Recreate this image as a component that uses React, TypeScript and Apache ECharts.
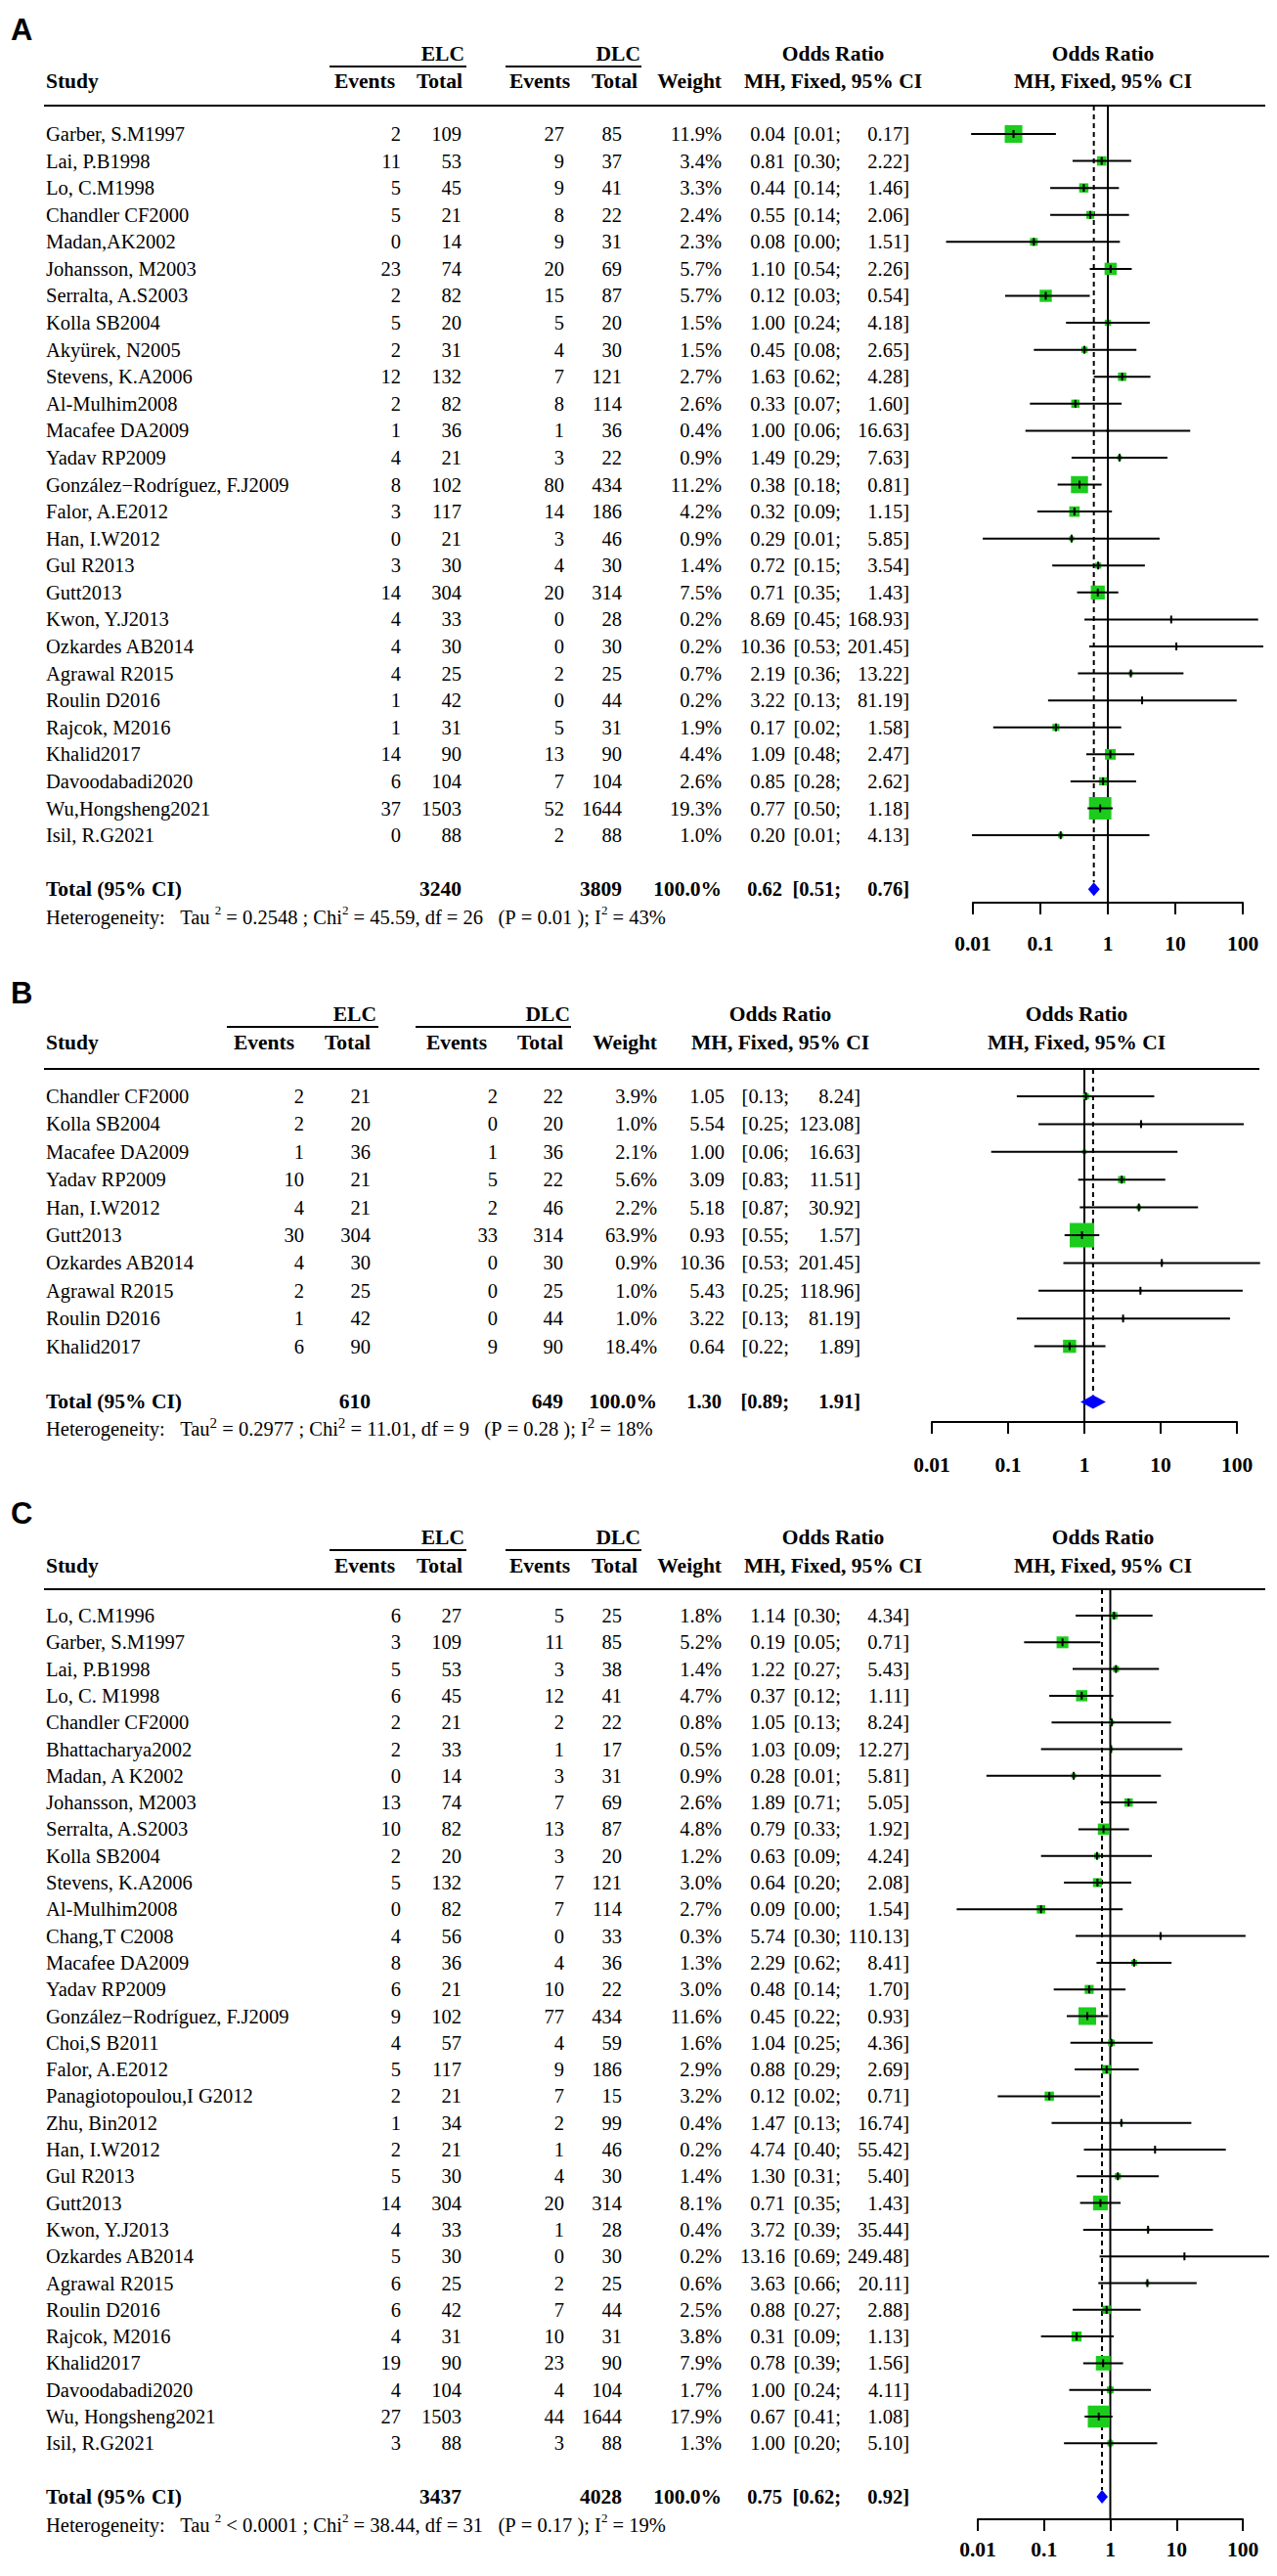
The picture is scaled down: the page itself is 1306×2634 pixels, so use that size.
import React, { useEffect, useRef } from 'react';
import * as echarts from 'echarts';

const W = 1306;
const H = 2634;
const SERIF = '"Liberation Serif", "Times New Roman", Times, serif';
const SANS = '"Liberation Sans", Arial, Helvetica, sans-serif';
const GREEN = '#1ccc1c';
const BLUE = '#0000ff';
const FS = 20.5;
const HFS = 21.5;

const TICK_LABELS = ['0.01', '0.1', '1', '10', '100'];

// ---------------- Panel A ----------------
const A_STUDY = ['Garber, S.M1997', 'Lai, P.B1998', 'Lo, C.M1998', 'Chandler CF2000', 'Madan,AK2002', 'Johansson, M2003', 'Serralta, A.S2003', 'Kolla SB2004', 'Akyürek, N2005', 'Stevens, K.A2006', 'Al-Mulhim2008', 'Macafee DA2009', 'Yadav RP2009', 'González−Rodríguez, F.J2009', 'Falor, A.E2012', 'Han, I.W2012', 'Gul R2013', 'Gutt2013', 'Kwon, Y.J2013', 'Ozkardes AB2014', 'Agrawal R2015', 'Roulin D2016', 'Rajcok, M2016', 'Khalid2017', 'Davoodabadi2020', 'Wu,Hongsheng2021', 'Isil, R.G2021'];
const A_EV_ELC = [2, 11, 5, 5, 0, 23, 2, 5, 2, 12, 2, 1, 4, 8, 3, 0, 3, 14, 4, 4, 4, 1, 1, 14, 6, 37, 0];
const A_N_ELC = [109, 53, 45, 21, 14, 74, 82, 20, 31, 132, 82, 36, 21, 102, 117, 21, 30, 304, 33, 30, 25, 42, 31, 90, 104, 1503, 88];
const A_EV_DLC = [27, 9, 9, 8, 9, 20, 15, 5, 4, 7, 8, 1, 3, 80, 14, 3, 4, 20, 0, 0, 2, 0, 5, 13, 7, 52, 2];
const A_N_DLC = [85, 37, 41, 22, 31, 69, 87, 20, 30, 121, 114, 36, 22, 434, 186, 46, 30, 314, 28, 30, 25, 44, 31, 90, 104, 1644, 88];
const A_WEIGHT = [11.9, 3.4, 3.3, 2.4, 2.3, 5.7, 5.7, 1.5, 1.5, 2.7, 2.6, 0.4, 0.9, 11.2, 4.2, 0.9, 1.4, 7.5, 0.2, 0.2, 0.7, 0.2, 1.9, 4.4, 2.6, 19.3, 1.0];
const A_OR = [0.04, 0.81, 0.44, 0.55, 0.08, 1.10, 0.12, 1.00, 0.45, 1.63, 0.33, 1.00, 1.49, 0.38, 0.32, 0.29, 0.72, 0.71, 8.69, 10.36, 2.19, 3.22, 0.17, 1.09, 0.85, 0.77, 0.20];
const A_LO = [0.0094, 0.30, 0.14, 0.14, 0.004, 0.54, 0.03, 0.24, 0.08, 0.62, 0.07, 0.06, 0.29, 0.18, 0.09, 0.014, 0.15, 0.35, 0.45, 0.53, 0.36, 0.13, 0.02, 0.48, 0.28, 0.50, 0.0097];
const A_HI = [0.17, 2.22, 1.46, 2.06, 1.51, 2.26, 0.54, 4.18, 2.65, 4.28, 1.60, 16.63, 7.63, 0.81, 1.15, 5.85, 3.54, 1.43, 168.93, 201.45, 13.22, 81.19, 1.58, 2.47, 2.62, 1.18, 4.13];
const A_TOTAL_N = [3240, 3809];
const A_SUMMARY = [0.62, 0.51, 0.76];
const A_HET = ['= 0.2548', '45.59', '26', '0.01', '43%'];

// ---------------- Panel B ----------------
const B_STUDY = ['Chandler CF2000', 'Kolla SB2004', 'Macafee DA2009', 'Yadav RP2009', 'Han, I.W2012', 'Gutt2013', 'Ozkardes AB2014', 'Agrawal R2015', 'Roulin D2016', 'Khalid2017'];
const B_EV_ELC = [2, 2, 1, 10, 4, 30, 4, 2, 1, 6];
const B_N_ELC = [21, 20, 36, 21, 21, 304, 30, 25, 42, 90];
const B_EV_DLC = [2, 0, 1, 5, 2, 33, 0, 0, 0, 9];
const B_N_DLC = [22, 20, 36, 22, 46, 314, 30, 25, 44, 90];
const B_WEIGHT = [3.9, 1.0, 2.1, 5.6, 2.2, 63.9, 0.9, 1.0, 1.0, 18.4];
const B_OR = [1.05, 5.54, 1.00, 3.09, 5.18, 0.93, 10.36, 5.43, 3.22, 0.64];
const B_LO = [0.13, 0.25, 0.06, 0.83, 0.87, 0.55, 0.53, 0.25, 0.13, 0.22];
const B_HI = [8.24, 123.08, 16.63, 11.51, 30.92, 1.57, 201.45, 118.96, 81.19, 1.89];
const B_TOTAL_N = [610, 649];
const B_SUMMARY = [1.30, 0.89, 1.91];
const B_HET = ['= 0.2977', '11.01', '9', '0.28', '18%'];

// ---------------- Panel C ----------------
const C_STUDY = ['Lo, C.M1996', 'Garber, S.M1997', 'Lai, P.B1998', 'Lo, C. M1998', 'Chandler CF2000', 'Bhattacharya2002', 'Madan, A K2002', 'Johansson, M2003', 'Serralta, A.S2003', 'Kolla SB2004', 'Stevens, K.A2006', 'Al-Mulhim2008', 'Chang,T C2008', 'Macafee DA2009', 'Yadav RP2009', 'González−Rodríguez, F.J2009', 'Choi,S B2011', 'Falor, A.E2012', 'Panagiotopoulou,I G2012', 'Zhu, Bin2012', 'Han, I.W2012', 'Gul R2013', 'Gutt2013', 'Kwon, Y.J2013', 'Ozkardes AB2014', 'Agrawal R2015', 'Roulin D2016', 'Rajcok, M2016', 'Khalid2017', 'Davoodabadi2020', 'Wu, Hongsheng2021', 'Isil, R.G2021'];
const C_EV_ELC = [6, 3, 5, 6, 2, 2, 0, 13, 10, 2, 5, 0, 4, 8, 6, 9, 4, 5, 2, 1, 2, 5, 14, 4, 5, 6, 6, 4, 19, 4, 27, 3];
const C_N_ELC = [27, 109, 53, 45, 21, 33, 14, 74, 82, 20, 132, 82, 56, 36, 21, 102, 57, 117, 21, 34, 21, 30, 304, 33, 30, 25, 42, 31, 90, 104, 1503, 88];
const C_EV_DLC = [5, 11, 3, 12, 2, 1, 3, 7, 13, 3, 7, 7, 0, 4, 10, 77, 4, 9, 7, 2, 1, 4, 20, 1, 0, 2, 7, 10, 23, 4, 44, 3];
const C_N_DLC = [25, 85, 38, 41, 22, 17, 31, 69, 87, 20, 121, 114, 33, 36, 22, 434, 59, 186, 15, 99, 46, 30, 314, 28, 30, 25, 44, 31, 90, 104, 1644, 88];
const C_WEIGHT = [1.8, 5.2, 1.4, 4.7, 0.8, 0.5, 0.9, 2.6, 4.8, 1.2, 3.0, 2.7, 0.3, 1.3, 3.0, 11.6, 1.6, 2.9, 3.2, 0.4, 0.2, 1.4, 8.1, 0.4, 0.2, 0.6, 2.5, 3.8, 7.9, 1.7, 17.9, 1.3];
const C_OR = [1.14, 0.19, 1.22, 0.37, 1.05, 1.03, 0.28, 1.89, 0.79, 0.63, 0.64, 0.09, 5.74, 2.29, 0.48, 0.45, 1.04, 0.88, 0.12, 1.47, 4.74, 1.30, 0.71, 3.72, 13.16, 3.63, 0.88, 0.31, 0.78, 1.00, 0.67, 1.00];
const C_LO = [0.30, 0.05, 0.27, 0.12, 0.13, 0.09, 0.0135, 0.71, 0.33, 0.09, 0.20, 0.0048, 0.30, 0.62, 0.14, 0.22, 0.25, 0.29, 0.02, 0.13, 0.40, 0.31, 0.35, 0.39, 0.69, 0.66, 0.27, 0.09, 0.39, 0.24, 0.41, 0.20];
const C_HI = [4.34, 0.71, 5.43, 1.11, 8.24, 12.27, 5.81, 5.05, 1.92, 4.24, 2.08, 1.54, 110.13, 8.41, 1.70, 0.93, 4.36, 2.69, 0.71, 16.74, 55.42, 5.40, 1.43, 35.44, 249.48, 20.11, 2.88, 1.13, 1.56, 4.11, 1.08, 5.10];
const C_TOTAL_N = [3437, 4028];
const C_SUMMARY = [0.75, 0.62, 0.92];
const C_HET = ['< 0.0001', '38.44', '31', '0.17', '19%'];

// ---------------- Layout (pixel positions) ----------------
const COLS_AC = { evE: 410, nE: 472, evC: 577, nC: 636, w: 738, est: 803, lo: 860, hi: 930 };
const HDR_AC = { elc: [337, 477], dlc: [517, 656], evE: 404, nE: 473, evC: 583, nC: 652, w: 738, orC: 852, plotC: 1128 };

const LAYOUT_A = {
  label: 'A', labelY: 30, head1Y: 55, underY: 68, head2Y: 83, ruleY: 108,
  row0: 137, step: 27.58, hetY: 936, axisY: 923, labelGap: 31,
  ruleX0: 45, ruleX1: 1294, nameX: 47, cols: COLS_AC, hdr: HDR_AC,
  plotX0: 995, plotX1: 1271, sq: 5.22, tauSpace: true, sup: 13,
};
const LAYOUT_B = {
  label: 'B', labelY: 1015, head1Y: 1037, underY: 1050, head2Y: 1066, ruleY: 1093,
  row0: 1121, step: 28.4, hetY: 1459, axisY: 1454, labelGap: 33,
  ruleX0: 45, ruleX1: 1288, nameX: 47,
  cols: { evE: 311, nE: 379, evC: 509, nC: 576, w: 672, est: 741, lo: 807, hi: 880 },
  hdr: { elc: [232, 387], dlc: [425, 584], evE: 301, nE: 379, evC: 498, nC: 576, w: 672, orC: 798, plotC: 1101 },
  plotX0: 953, plotX1: 1265, sq: 3.13, tauSpace: false, sup: 15,
};
const LAYOUT_C = {
  label: 'C', labelY: 1547, head1Y: 1572, underY: 1585, head2Y: 1601, ruleY: 1625,
  row0: 1652, step: 27.3, hetY: 2580, axisY: 2576, labelGap: 20,
  ruleX0: 45, ruleX1: 1294, nameX: 47, cols: COLS_AC, hdr: HDR_AC,
  plotX0: 1000, plotX1: 1271, sq: 5.3, tauSpace: true, sup: 13,
};

const PANELS = [
  { L: LAYOUT_A, study: A_STUDY, evE: A_EV_ELC, nE: A_N_ELC, evC: A_EV_DLC, nC: A_N_DLC, w: A_WEIGHT, or: A_OR, lo: A_LO, hi: A_HI, tot: A_TOTAL_N, sum: A_SUMMARY, het: A_HET },
  { L: LAYOUT_B, study: B_STUDY, evE: B_EV_ELC, nE: B_N_ELC, evC: B_EV_DLC, nC: B_N_DLC, w: B_WEIGHT, or: B_OR, lo: B_LO, hi: B_HI, tot: B_TOTAL_N, sum: B_SUMMARY, het: B_HET },
  { L: LAYOUT_C, study: C_STUDY, evE: C_EV_ELC, nE: C_N_ELC, evC: C_EV_DLC, nC: C_N_DLC, w: C_WEIGHT, or: C_OR, lo: C_LO, hi: C_HI, tot: C_TOTAL_N, sum: C_SUMMARY, het: C_HET },
];

function txt(text: string, x: number, y: number, align: string, font: string, extra: any = {}) {
  return {
    type: 'text', x, y, silent: true,
    style: { text, font, fill: '#000', textAlign: align, align, textVerticalAlign: 'middle', verticalAlign: 'middle', ...extra },
  };
}
function hline(x1: number, x2: number, y: number) {
  return { type: 'line', silent: true, shape: { x1, y1: y, x2, y2: y }, style: { stroke: '#000', lineWidth: 2 } };
}

function buildOption() {
  const grid: any[] = [];
  const xAxis: any[] = [];
  const yAxis: any[] = [];
  const series: any[] = [];
  const graphic: any[] = [];
  const bold = `bold ${HFS}px ${SERIF}`;

  PANELS.forEach((P, p) => {
    const L: any = P.L;
    const n = P.study.length;
    const yMin = -(L.row0 - L.ruleY) / L.step;
    const yMax = (L.axisY - L.row0) / L.step;
    const gh = L.axisY - L.ruleY;
    const gt = 2 * p;
    const gp = 2 * p + 1;

    grid.push({ left: 0, top: L.ruleY, width: W, height: gh, containLabel: false, outerBoundsMode: 'none' });
    grid.push({ left: L.plotX0, top: L.ruleY, width: L.plotX1 - L.plotX0, height: gh, containLabel: false, outerBoundsMode: 'none' });

    xAxis.push({ type: 'value', gridIndex: gt, min: 0, max: W, show: false });
    xAxis.push({
      type: 'log', logBase: 10, gridIndex: gp, min: 0.01, max: 100, position: 'bottom',
      axisLine: { show: true, onZero: false, lineStyle: { color: '#000', width: 2 } },
      axisTick: { show: true, inside: false, length: 12, lineStyle: { color: '#000', width: 2 } },
      minorTick: { show: false },
      splitLine: { show: false },
      axisLabel: {
        show: true, margin: L.labelGap, color: '#000', fontFamily: SERIF, fontWeight: 'bold', fontSize: HFS,
        formatter: (v: number) => TICK_LABELS[Math.round(Math.log10(v)) + 2] ?? '',
      },
    });
    yAxis.push({ type: 'value', gridIndex: gt, min: yMin, max: yMax, inverse: true, show: false });
    yAxis.push({ type: 'value', gridIndex: gp, min: yMin, max: yMax, inverse: true, show: false });

    // table text
    const tableData: number[][] = P.study.map((_, i) => [0, i]);
    tableData.push([0, n + 1]);
    series.push({
      type: 'custom', xAxisIndex: gt, yAxisIndex: gt, clip: false, silent: true, z: 3,
      data: tableData,
      renderItem: (params: any, api: any) => {
        const i = params.dataIndex;
        const isTot = i === n;
        const row = isTot ? n + 1 : i;
        const y = api.coord([0, row])[1];
        const cx = (x: number) => api.coord([x, row])[0];
        const font = isTot ? `bold ${FS}px ${SERIF}` : `${FS}px ${SERIF}`;
        const nameFont = isTot ? `bold ${HFS}px ${SERIF}` : font;
        const C = L.cols;
        const est = isTot ? P.sum[0] : P.or[i];
        const lo = isTot ? P.sum[1] : P.lo[i];
        const hi = isTot ? P.sum[2] : P.hi[i];
        const children: any[] = [
          txt(isTot ? 'Total (95% CI)' : P.study[i], cx(L.nameX), y, 'left', nameFont),
          txt(est.toFixed(2), cx(C.est - (isTot ? 3 : 0)), y, 'right', font),
          txt('[' + lo.toFixed(2) + ';', cx(C.lo), y, 'right', font),
          txt(hi.toFixed(2) + ']', cx(C.hi), y, 'right', font),
        ];
        if (isTot) {
          children.push(txt(String(P.tot[0]), cx(C.nE), y, 'right', nameFont));
          children.push(txt(String(P.tot[1]), cx(C.nC), y, 'right', nameFont));
          children.push(txt('100.0%', cx(C.w), y, 'right', nameFont));
        } else {
          children.push(txt(String(P.evE[i]), cx(C.evE), y, 'right', font));
          children.push(txt(String(P.nE[i]), cx(C.nE), y, 'right', font));
          children.push(txt(String(P.evC[i]), cx(C.evC), y, 'right', font));
          children.push(txt(String(P.nC[i]), cx(C.nC), y, 'right', font));
          children.push(txt(P.w[i].toFixed(1) + '%', cx(C.w), y, 'right', font));
        }
        return { type: 'group', children };
      },
    });

    // forest marks
    series.push({
      type: 'custom', xAxisIndex: gp, yAxisIndex: gp, clip: false, silent: true, z: 4,
      data: P.or.map((v, i) => [v, i]),
      renderItem: (params: any, api: any) => {
        const i = params.dataIndex;
        const c = api.coord([P.or[i], i]);
        const a = api.coord([P.lo[i], i]);
        const b = api.coord([P.hi[i], i]);
        const s = Math.max(2, L.sq * Math.sqrt(P.w[i]));
        return {
          type: 'group', children: [
            { type: 'rect', shape: { x: c[0] - s / 2, y: c[1] - s / 2, width: s, height: s }, style: { fill: GREEN } },
            { type: 'line', shape: { x1: a[0], y1: a[1], x2: b[0], y2: b[1] }, style: { stroke: '#000', lineWidth: 2 } },
            { type: 'line', shape: { x1: c[0], y1: c[1] - 4, x2: c[0], y2: c[1] + 4 }, style: { stroke: '#000', lineWidth: 2 } },
          ],
        };
      },
    });

    // reference lines + summary diamond
    series.push({
      type: 'custom', xAxisIndex: gp, yAxisIndex: gp, clip: false, silent: true, z: 2,
      data: [[P.sum[0], n + 1]],
      renderItem: (params: any, api: any) => {
        const tr = n + 1;
        const top = api.coord([1, yMin]);
        const bot = api.coord([1, yMax]);
        const d = api.coord([P.sum[0], tr]);
        const dl = api.coord([P.sum[1], tr]);
        const dh = api.coord([P.sum[2], tr]);
        const dt = api.coord([P.sum[0], yMin]);
        return {
          type: 'group', children: [
            { type: 'line', shape: { x1: top[0], y1: top[1], x2: bot[0], y2: bot[1] }, style: { stroke: '#000', lineWidth: 2 } },
            { type: 'line', shape: { x1: dt[0], y1: dt[1], x2: d[0], y2: d[1] - 7 }, style: { stroke: '#000', lineWidth: 2, lineDash: [5, 4] } },
            { type: 'polygon', shape: { points: [[dl[0], d[1]], [d[0], d[1] - 7], [dh[0], d[1]], [d[0], d[1] + 7]] }, style: { fill: BLUE } },
          ],
        };
      },
    });

    // headers & rules (graphic)
    const Hd = L.hdr;
    graphic.push(txt(L.label, 11, L.labelY, 'left', `bold 31px ${SANS}`));
    graphic.push(txt('ELC', Hd.elc[1] - 2, L.head1Y, 'right', bold));
    graphic.push(hline(Hd.elc[0], Hd.elc[1], L.underY));
    graphic.push(txt('DLC', Hd.dlc[1] - 1, L.head1Y, 'right', bold));
    graphic.push(hline(Hd.dlc[0], Hd.dlc[1], L.underY));
    graphic.push(txt('Study', L.nameX, L.head2Y, 'left', bold));
    graphic.push(txt('Events', Hd.evE, L.head2Y, 'right', bold));
    graphic.push(txt('Total', Hd.nE, L.head2Y, 'right', bold));
    graphic.push(txt('Events', Hd.evC, L.head2Y, 'right', bold));
    graphic.push(txt('Total', Hd.nC, L.head2Y, 'right', bold));
    graphic.push(txt('Weight', Hd.w, L.head2Y, 'right', bold));
    graphic.push(txt('Odds Ratio', Hd.orC, L.head1Y, 'center', bold));
    graphic.push(txt('MH, Fixed, 95% CI', Hd.orC, L.head2Y, 'center', bold));
    graphic.push(txt('Odds Ratio', Hd.plotC, L.head1Y, 'center', bold));
    graphic.push(txt('MH, Fixed, 95% CI', Hd.plotC, L.head2Y, 'center', bold));
    graphic.push(hline(L.ruleX0, L.ruleX1, L.ruleY));

    // heterogeneity line
    const nb = '\u00a0';
    const [tau, chi, df, pv, i2] = P.het;
    const hetText =
      `{n|Heterogeneity:${nb}${nb}${nb}Tau${L.tauSpace ? nb : ''}}{s|2}{n|${nb}${tau}${nb};${nb}Chi}{s|2}` +
      `{n|${nb}=${nb}${chi},${nb}df${nb}=${nb}${df}${nb}${nb}${nb}(P${nb}=${nb}${pv}${nb});${nb}I}{s|2}{n|${nb}=${nb}${i2}}`;
    graphic.push({
      type: 'text', x: L.nameX, y: L.hetY, silent: true,
      style: {
        text: hetText, textVerticalAlign: 'middle', verticalAlign: 'middle', textAlign: 'left', align: 'left',
        rich: {
          n: { fontFamily: SERIF, fontSize: 20.5, lineHeight: 24, fill: '#000', verticalAlign: 'bottom' },
          s: { fontFamily: SERIF, fontSize: L.sup, lineHeight: 14, fill: '#000', verticalAlign: 'top' },
        },
      },
    });
  });

  return {
    animation: false,
    backgroundColor: '#ffffff',
    grid, xAxis, yAxis, series, graphic,
  };
}

export default function App() {
  const ref = useRef<HTMLDivElement>(null);
  useEffect(() => {
    document.body.style.margin = '0';
    const chart = echarts.init(ref.current as HTMLDivElement, undefined, { renderer: 'svg', width: W, height: H });
    chart.setOption(buildOption() as any);
    return () => chart.dispose();
  }, []);
  return <div ref={ref} style={{ width: W, height: H, background: '#fff' }} />;
}
